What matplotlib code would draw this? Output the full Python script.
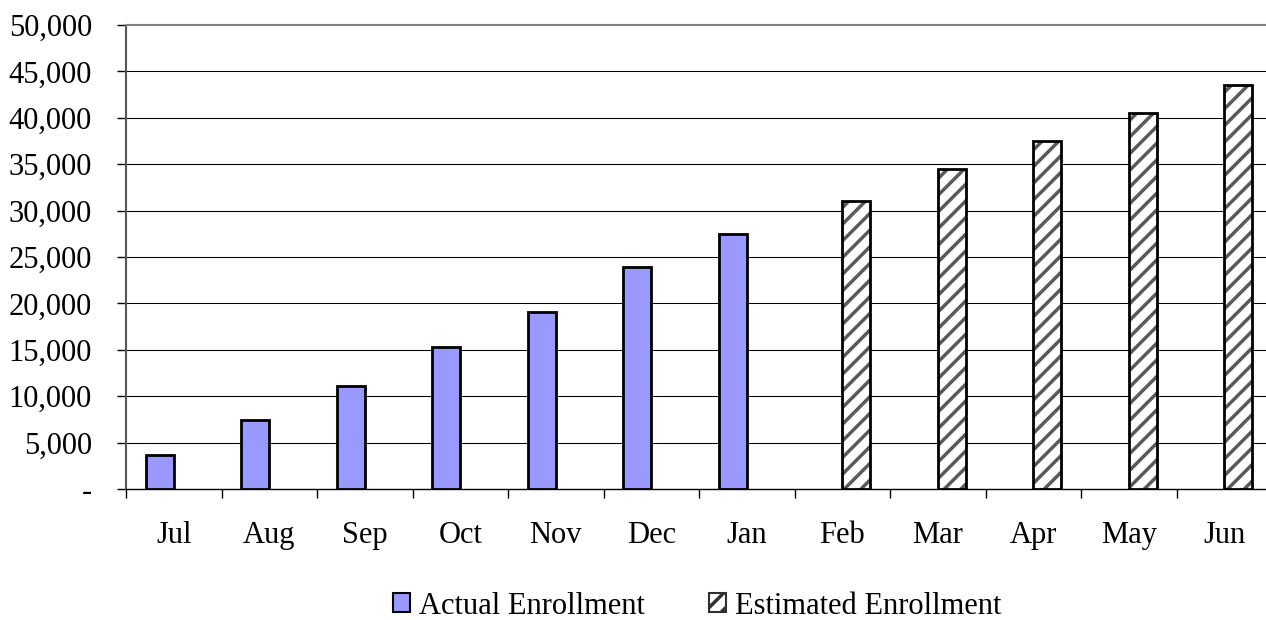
# enrollment chart: actual vs estimated enrollment by month

import numpy as np
import matplotlib.pyplot as plt
from matplotlib.ticker import FuncFormatter, FixedLocator
from matplotlib.patches import Patch

plt.rcParams['font.family'] = ['Liberation Serif', 'DejaVu Serif']
plt.rcParams['hatch.linewidth'] = 2.5

# data (nan = no bar for that month)
months = ["Jul", "Aug", "Sep", "Oct", "Nov", "Dec", "Jan",
          "Feb", "Mar", "Apr", "May", "Jun"]
actual = [3700, 7400, 11100, 15300, 19100, 23900, 27500,
          np.nan, np.nan, np.nan, np.nan, np.nan]
estimated = [np.nan, np.nan, np.nan, np.nan, np.nan, np.nan, np.nan,
             31000, 34500, 37500, 40500, 43500]

x = np.arange(len(months))
w = 0.295

fig = plt.figure(figsize=(12.66, 6.2), dpi=100)
ax = fig.add_axes([126 / 1266, 131 / 620, 1146 / 1266, 464 / 620])

# actual bars (left of centre)
ax.bar(x - w / 2, actual, width=w, color="#9999FF", edgecolor="black",
       linewidth=2, zorder=3)
# estimated bars (right of centre): hatch in grey, outline in black
ax.bar(x + w / 2, estimated, width=w, color="white", edgecolor="#5a5a5a",
       hatch="//", linewidth=0, zorder=3)
ax.bar(x + w / 2, estimated, width=w, fill=False, edgecolor="black",
       linewidth=2, zorder=4)

ax.set_xlim(-0.5, len(months) - 0.5)
ax.set_ylim(0, 50000)

# y axis
ax.set_yticks(np.arange(0, 50001, 5000))
ax.yaxis.set_major_formatter(FuncFormatter(lambda v, p: "-" if v == 0 else f"{int(v):,}"))
ax.tick_params(axis="y", direction="out", length=6.5, width=1, pad=18,
               labelsize=22, colors="black")
ax.yaxis.grid(True, color="black", linewidth=0.75, zorder=0)

# x axis: ticks at category borders, labels at centres
ax.xaxis.set_major_locator(FixedLocator(np.arange(-0.5, len(months), 1.0)))
ax.xaxis.set_major_formatter(FuncFormatter(lambda v, p: ""))
ax.xaxis.set_minor_locator(FixedLocator(x))
ax.set_xticklabels(months, minor=True)
ax.tick_params(axis="x", which="major", direction="out", length=6.5, width=1)
ax.tick_params(axis="x", which="minor", length=0, pad=23, labelsize=22)

ax.spines["right"].set_visible(False)
ax.spines["top"].set_color("#808080")
ax.spines["top"].set_linewidth(1.5)
ax.spines["left"].set_color("#555555")
ax.spines["left"].set_linewidth(1.5)
ax.spines["bottom"].set_color("black")
ax.spines["bottom"].set_linewidth(1)
ax.set_axisbelow(True)

# legend below the chart
handles = [
    Patch(facecolor="#9999FF", edgecolor="black", linewidth=1.5),
    Patch(facecolor="white", edgecolor="#303030", hatch="//", linewidth=1.5),
]
fig.legend(handles, ["Actual Enrollment", "Estimated Enrollment"],
           loc="center", bbox_to_anchor=(697 / 1266, 14 / 620),
           ncol=2, frameon=False, fontsize=22, handlelength=0.55,
           handleheight=0.55, handletextpad=0.3, columnspacing=2.1)

fig.savefig("out.png", dpi=100)
plt.close(fig)
